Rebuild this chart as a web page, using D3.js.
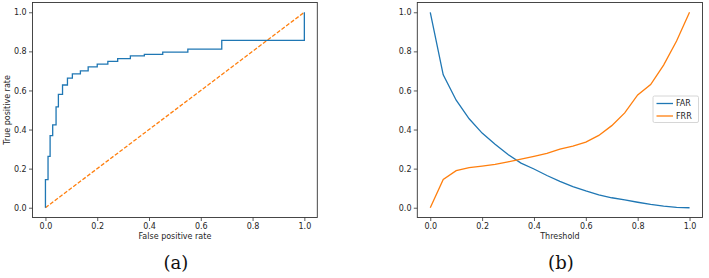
<!DOCTYPE html>
<html>
<head>
<meta charset="utf-8">
<script src="https://cdn.jsdelivr.net/npm/d3@7"></script>
<style>
  html, body { margin: 0; padding: 0; background: #fff; }
  svg { display: block; }
  .tick text { font-family: "DejaVu Sans", sans-serif; font-size: 8px; fill: #262626; }
  .alabel { font-family: "DejaVu Sans", sans-serif; font-size: 8px; fill: #262626; }
  .cap { font-family: "DejaVu Serif", serif; font-size: 18px; fill: #111; }
</style>
</head>
<body>
<svg id="chart" width="709" height="278"></svg>
<script>
// ROC curve (panel a): step vertices (fpr, tpr)
const fpr = [0, 0.010, 0.018, 0.028, 0.041, 0.050, 0.066, 0.085, 0.104, 0.135, 0.165, 0.200, 0.241, 0.279, 0.328, 0.382, 0.453, 0.550, 0.681, 1.0, 1.0];
const tpr = [0, 0.144, 0.263, 0.369, 0.424, 0.516, 0.580, 0.628, 0.663, 0.685, 0.700, 0.721, 0.735, 0.749, 0.763, 0.777, 0.785, 0.796, 0.811, 0.856, 1.0];
const chanceX = [0, 1];
const chanceY = [0, 1];

// FAR / FRR vs threshold (panel b)
const threshold = [0, 0.05, 0.1, 0.15, 0.2, 0.25, 0.3, 0.35, 0.4, 0.45, 0.5, 0.55, 0.6, 0.65, 0.7, 0.75, 0.8, 0.85, 0.9, 0.95, 1.0];
const far = [1.0, 0.68, 0.55, 0.455, 0.382, 0.325, 0.272, 0.228, 0.198, 0.165, 0.135, 0.108, 0.086, 0.066, 0.051, 0.040, 0.028, 0.017, 0.008, 0.002, 0.0];
const frr = [0.0, 0.145, 0.19, 0.205, 0.213, 0.222, 0.235, 0.249, 0.263, 0.278, 0.300, 0.315, 0.336, 0.370, 0.420, 0.485, 0.577, 0.630, 0.730, 0.853, 1.0];

const ticks = [0, 0.2, 0.4, 0.6, 0.8, 1.0];
const seriesNames = ["FAR", "FRR"];
const colors = ["#1f77b4", "#ff7f0e"];
const xLabels = ["False positive rate", "Threshold"];
const yLabels = ["True positive rate", ""];
const captions = ["(a)", "(b)"];

const svg = d3.select("#chart");
const plotTop = 2.5, plotBottom = 217.5;
const panels = [{ left: 32.5, right: 317.3 }, { left: 417.3, right: 702.5 }];

function makePanel(i) {
  const p = panels[i];
  const x = d3.scaleLinear().domain([-0.05, 1.05]).range([p.left, p.right]);
  const y = d3.scaleLinear().domain([-0.05, 1.05]).range([plotBottom, plotTop]);
  const g = svg.append("g");

  const xa = g.append("g").attr("transform", `translate(0,${plotBottom})`)
    .call(d3.axisBottom(x).tickValues(ticks).tickFormat(d3.format(".1f")).tickSize(3.5).tickPadding(2.3));
  const ya = g.append("g").attr("transform", `translate(${p.left},0)`)
    .call(d3.axisLeft(y).tickValues(ticks).tickFormat(d3.format(".1f")).tickSize(3.5).tickPadding(2.3));
  [xa, ya].forEach(a => {
    a.select(".domain").remove();
    a.selectAll(".tick line").attr("stroke", "#333").attr("stroke-width", 0.8);
  });

  g.append("text").attr("class", "alabel").attr("x", (p.left + p.right) / 2).attr("y", 238.5)
    .attr("text-anchor", "middle").text(xLabels[i]);
  if (yLabels[i]) {
    g.append("text").attr("class", "alabel").attr("transform", `translate(9.8,${(plotTop + plotBottom) / 2}) rotate(-90)`)
      .attr("text-anchor", "middle").text(yLabels[i]);
  }
  g.append("text").attr("class", "cap").attr("x", x(0.5) + 1).attr("y", 268.5)
    .attr("text-anchor", "middle").text(captions[i]);
  return { g, x, y, p };
}

// Panel a
{
  const { g, x, y, p } = makePanel(0);
  g.append("path")
    .datum(chanceX.map((d, k) => [d, chanceY[k]]))
    .attr("fill", "none").attr("stroke", colors[1]).attr("stroke-width", 1.3)
    .attr("stroke-dasharray", "4,1.8")
    .attr("d", d3.line().x(d => x(d[0])).y(d => y(d[1])));
  g.append("path")
    .datum(fpr.map((d, k) => [d, tpr[k]]))
    .attr("fill", "none").attr("stroke", colors[0]).attr("stroke-width", 1.3)
    .attr("d", d3.line().x(d => x(d[0])).y(d => y(d[1])).curve(d3.curveStepBefore));
  g.append("rect").attr("x", p.left).attr("y", plotTop).attr("width", p.right - p.left).attr("height", plotBottom - plotTop)
    .attr("fill", "none").attr("stroke", "#333").attr("stroke-width", 0.9);
}

// Panel b
{
  const { g, x, y, p } = makePanel(1);
  [far, frr].forEach((vals, s) => {
    g.append("path")
      .datum(threshold.map((t, k) => [t, vals[k]]))
      .attr("fill", "none").attr("stroke", colors[s]).attr("stroke-width", 1.3)
      .attr("d", d3.line().x(d => x(d[0])).y(d => y(d[1])));
  });
  g.append("rect").attr("x", p.left).attr("y", plotTop).attr("width", p.right - p.left).attr("height", plotBottom - plotTop)
    .attr("fill", "none").attr("stroke", "#333").attr("stroke-width", 0.9);

  // legend
  const lg = g.append("g").attr("transform", "translate(653,96)");
  lg.append("rect").attr("x", 0).attr("y", 0).attr("width", 45.5).attr("height", 26.5).attr("rx", 1.5)
    .attr("fill", "#fff").attr("fill-opacity", 0.8).attr("stroke", "#ccc").attr("stroke-width", 0.8);
  seriesNames.forEach((n, s) => {
    const yy = 7.5 + s * 12.5;
    lg.append("line").attr("x1", 3.5).attr("x2", 20).attr("y1", yy).attr("y2", yy)
      .attr("stroke", colors[s]).attr("stroke-width", 1.3);
    lg.append("text").attr("class", "alabel").attr("x", 23).attr("y", yy + 2.8).text(n);
  });
}
</script>
</body>
</html>
